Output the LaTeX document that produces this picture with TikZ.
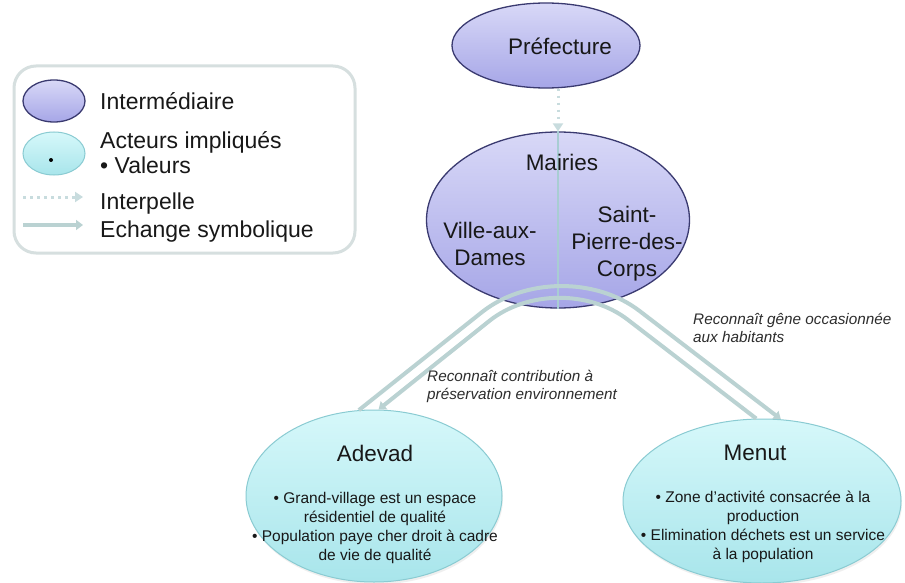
\documentclass[tikz,border=0pt]{standalone}
\usepackage{fontspec}
\setmainfont{Liberation Sans}
\usetikzlibrary{shapes.geometric,arrows.meta,shadows}
\definecolor{purpTop}{RGB}{216,216,247}
\definecolor{purpBot}{RGB}{166,166,231}
\definecolor{purpLine}{RGB}{58,58,112}
\definecolor{cyTop}{RGB}{214,248,250}
\definecolor{cyBot}{RGB}{168,229,235}
\definecolor{cyLine}{RGB}{138,203,210}
\definecolor{exchCol}{RGB}{186,210,210}
\definecolor{dotCol}{RGB}{200,220,222}
\definecolor{divCol}{RGB}{168,205,211}
\definecolor{txtCol}{RGB}{24,24,24}
\definecolor{labCol}{RGB}{45,45,45}
\definecolor{legLine}{RGB}{214,223,223}
\begin{document}
\begin{tikzpicture}[x=1pt,y=-1pt,
  interm/.style={ellipse, draw=purpLine, line width=1.3pt, top color=purpTop, bottom color=purpBot, inner sep=0pt},
  actor/.style={ellipse, draw=cyLine, line width=1pt, top color=cyTop, bottom color=cyBot, inner sep=0pt,
     drop shadow={opacity=0.12, shadow xshift=1pt, shadow yshift=-2.5pt}},
  bigtext/.style={text=txtCol, align=center, inner sep=0pt, font=\fontsize{22.5}{27}\selectfont},
  legtext/.style={text=txtCol, inner sep=0pt, font=\fontsize{23}{27}\selectfont},
  valtext/.style={text=txtCol, align=center, inner sep=0pt, font=\fontsize{15.5}{19}\selectfont},
  labtext/.style={text=labCol, align=left, inner sep=0pt, font=\fontsize{15.3}{18}\selectfont\itshape},
  exch/.style={draw=exchCol, line width=4pt, -{Triangle[width=10pt,length=7pt]}},
  interp/.style={draw=dotCol, line width=3pt, dash pattern=on 2.5pt off 4.5pt, -{Triangle[width=10pt,length=8pt]}},
  divline/.style={draw=divCol, line width=1.5pt}
]
\useasboundingbox (0,0) rectangle (905,583);
\fill[white] (0,0) rectangle (905,583);

% legend
\node[draw=legLine, line width=3pt, rounded corners=22pt, fill=white, minimum width=341pt, minimum height=187pt, inner sep=0pt] (legend) at (184.5,159.5) {};
\node[interm, minimum width=62pt, minimum height=42pt] (lgI) at (54,101) {};
\node[ellipse, draw=cyLine, line width=1pt, top color=cyTop, bottom color=cyBot, inner sep=0pt, minimum width=62pt, minimum height=43pt] (lgA) at (54,153.5) {};
\node[circle, fill=black, inner sep=0pt, minimum size=4pt] (lgDot) at (51,160) {};
\coordinate (lgD1) at (23,197);
\coordinate (lgD2) at (83,197);
\draw[interp] (lgD1) -- (lgD2);
\coordinate (lgE1) at (23,225);
\coordinate (lgE2) at (83,225);
\draw[exch, line width=3.5pt] (lgE1) -- (lgE2);
\node[legtext, anchor=base west] (lgT1) at (100,110) {Intermédiaire};
\node[legtext, anchor=base west] (lgT2) at (100,149) {Acteurs impliqués};
\node[legtext, anchor=base west] (lgT3) at (100,174) {• Valeurs};
\node[legtext, anchor=base west] (lgT4) at (100,209) {Interpelle};
\node[legtext, anchor=base west] (lgT5) at (100,237) {Echange symbolique};

% intermediaries
\node[interm, minimum width=188pt, minimum height=85pt] (pref) at (546,45.5) {};
\node[bigtext] (prefT) at (560,46) {Préfecture};
\node[interm, minimum width=263pt, minimum height=176pt] (mairies) at (558,220) {};
\draw[divline] (mairies.north) -- (mairies.south);
\draw[interp] (pref.south -| mairies.north) -- (mairies.north);
\node[bigtext] (mairiesT) at (562,162) {Mairies};
\node[bigtext] (villeT) at (490,244) {Ville-aux-\\Dames};
\node[bigtext] (saintT) at (627,244) {Saint-\\Pierre-des-\\Corps};

% actors
\node[actor, minimum width=256pt, minimum height=172pt] (adevad) at (374,496) {};
\node[actor, minimum width=278pt, minimum height=164pt] (menut) at (762,501) {};
\node[bigtext] (adevadT) at (375,453) {Adevad};
\node[valtext] (adevadV) at (375,528) {• Grand-village est un espace\\résidentiel de qualité\\• Population paye cher droit à cadre\\de vie de qualité};
\node[bigtext] (menutT) at (755,453) {Menut};
\node[valtext] (menutV) at (763,527) {• Zone d’activité consacrée à la\\production\\• Elimination déchets est un service\\à la population};

% symbolic exchanges
\coordinate (kO) at (560,250);
\coordinate (kI) at (558,266);
\draw[exch, rounded corners=100pt] (adevad.100) -- (kO) -- (menut.77);
\draw[exch, rounded corners=88pt] (menut.94) -- (kI) -- (adevad.87);

% labels
\node[labtext, anchor=west] (labA) at (427,386) {Reconnaît contribution à\\préservation environnement};
\node[labtext, anchor=west] (labM) at (693,328) {Reconnaît gêne occasionnée\\aux habitants};
\end{tikzpicture}
\end{document}
